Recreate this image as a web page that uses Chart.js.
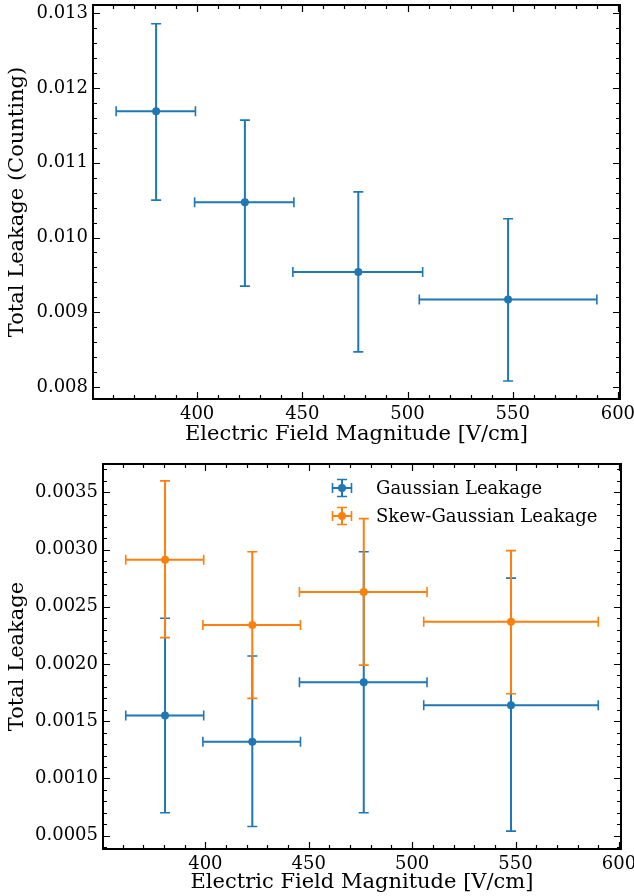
<!DOCTYPE html>
<html>
<head>
<meta charset="utf-8">
<script src="https://cdn.jsdelivr.net/npm/chart.js@4.4.0/dist/chart.umd.min.js"></script>
<style>
  body { margin: 0; background: #fff; }
  canvas { display: block; }
</style>
</head>
<body>
<canvas id="counting" width="634" height="448"></canvas>
<canvas id="fits" width="634" height="448"></canvas>
<script>
// field bins [V/cm]: centre and bin edges
const fieldCenters = [380.5, 422.7, 476.6, 547.8];
const fieldLow = [361.5, 398.8, 445.5, 505.6];
const fieldHigh = [399.2, 446.0, 507.2, 590.0];
const xTicks = [400, 450, 500, 550, 600];

// top panel - counting method
const countLeak = [0.01169, 0.01047, 0.00954, 0.00917];
const countLow = [0.01050, 0.00935, 0.00847, 0.00808];
const countHigh = [0.01286, 0.01157, 0.01061, 0.01025];
const countTicks = [0.008, 0.009, 0.010, 0.011, 0.012, 0.013];

// bottom panel - fitted leakage
const gausLeak = [0.00155, 0.00132, 0.00184, 0.00164];
const gausLow = [0.00070, 0.00058, 0.00070, 0.00054];
const gausHigh = [0.00240, 0.00207, 0.00298, 0.00275];
const skewLeak = [0.00291, 0.00234, 0.00263, 0.00237];
const skewLow = [0.00223, 0.00170, 0.00199, 0.00174];
const skewHigh = [0.00360, 0.00298, 0.00327, 0.00299];
const fitTicks = [0.0005, 0.0010, 0.0015, 0.0020, 0.0025, 0.0030, 0.0035];

const FONT = "'DejaVu Serif', serif";
const BLUE = '#1f77b4';
const ORANGE = '#ff7f0e';

// draws x/y error bars for a dataset just before its points
const errorBars = {
    id: 'errorBars',
    beforeDatasetDraw(chart, args) {
        const ds = chart.data.datasets[args.index];
        const err = ds.errors;
        if (!err) return;
        const xs = chart.scales.x, ys = chart.scales.y;
        const ctx = chart.ctx;
        const cap = 5;
        ctx.save();
        ctx.strokeStyle = ds.borderColor;
        ds.data.forEach((p, i) => {
            const px = xs.getPixelForValue(p.x), py = ys.getPixelForValue(p.y);
            const x0 = xs.getPixelForValue(err.xLow[i]), x1 = xs.getPixelForValue(err.xHigh[i]);
            const y0 = ys.getPixelForValue(err.yLow[i]), y1 = ys.getPixelForValue(err.yHigh[i]);
            ctx.lineWidth = 2;
            ctx.beginPath();
            ctx.moveTo(x0, py); ctx.lineTo(x1, py);
            ctx.moveTo(px, y0); ctx.lineTo(px, y1);
            ctx.stroke();
            ctx.lineWidth = 1.6;
            ctx.beginPath();
            ctx.moveTo(x0, py - cap); ctx.lineTo(x0, py + cap);
            ctx.moveTo(x1, py - cap); ctx.lineTo(x1, py + cap);
            ctx.moveTo(px - cap, y0); ctx.lineTo(px + cap, y0);
            ctx.moveTo(px - cap, y1); ctx.lineTo(px + cap, y1);
            ctx.stroke();
        });
        ctx.restore();
    }
};

// box around the axes with inward major/minor ticks on all sides
const frame = {
    id: 'frame',
    afterDraw(chart) {
        const {ctx, chartArea: a} = chart;
        ctx.save();
        ctx.strokeStyle = '#000';
        ctx.lineWidth = 1.2;
        const marks = (scale, horizontal) => {
            const t = scale.ticks.map(k => k.value);
            const minor = (t[1] - t[0]) / 5;
            const k0 = Math.ceil(scale.min / minor - 1e-6);
            const k1 = Math.floor(scale.max / minor + 1e-6);
            ctx.beginPath();
            for (let k = k0; k <= k1; k++) {
                const p = Math.round(scale.getPixelForValue(k * minor)) + 0.5;
                const len = k % 5 === 0 ? 7 : 4;
                if (horizontal) {
                    ctx.moveTo(p, a.bottom); ctx.lineTo(p, a.bottom - len);
                    ctx.moveTo(p, a.top); ctx.lineTo(p, a.top + len);
                } else {
                    ctx.moveTo(a.left, p); ctx.lineTo(a.left + len, p);
                    ctx.moveTo(a.right, p); ctx.lineTo(a.right - len, p);
                }
            }
            ctx.stroke();
        };
        marks(chart.scales.x, true);
        marks(chart.scales.y, false);
        ctx.lineWidth = 2;
        ctx.strokeRect(a.left, a.top, a.right - a.left, a.bottom - a.top);
        ctx.restore();
    }
};

// matplotlib-like legend inside the upper right of the axes
const innerLegend = {
    id: 'innerLegend',
    afterDraw(chart) {
        const {ctx, chartArea: a} = chart;
        ctx.save();
        ctx.font = '18px ' + FONT;
        ctx.textBaseline = 'middle';
        chart.data.datasets.forEach((ds, i) => {
            const cx = a.left + 239, cy = a.top + 24 + i * 28;
            ctx.strokeStyle = ds.borderColor;
            ctx.lineWidth = 2;
            ctx.beginPath();
            ctx.moveTo(cx - 9.5, cy); ctx.lineTo(cx + 9.5, cy);
            ctx.moveTo(cx, cy - 8.5); ctx.lineTo(cx, cy + 8.5);
            ctx.stroke();
            ctx.lineWidth = 1.6;
            ctx.beginPath();
            ctx.moveTo(cx - 9.5, cy - 5); ctx.lineTo(cx - 9.5, cy + 5);
            ctx.moveTo(cx + 9.5, cy - 5); ctx.lineTo(cx + 9.5, cy + 5);
            ctx.moveTo(cx - 5, cy - 8.5); ctx.lineTo(cx + 5, cy - 8.5);
            ctx.moveTo(cx - 5, cy + 8.5); ctx.lineTo(cx + 5, cy + 8.5);
            ctx.stroke();
            ctx.fillStyle = ds.borderColor;
            ctx.beginPath();
            ctx.arc(cx, cy, 4, 0, Math.PI * 2);
            ctx.fill();
            ctx.fillStyle = '#000';
            ctx.fillText(ds.label, a.left + 273, cy + 1);
        });
        ctx.restore();
    }
};

function series(label, color, ys, lo, hi, order) {
    return {
        label: label,
        data: fieldCenters.map((x, i) => ({x: x, y: ys[i]})),
        errors: {xLow: fieldLow, xHigh: fieldHigh, yLow: lo, yHigh: hi},
        borderColor: color,
        backgroundColor: color,
        pointRadius: 4,
        pointBorderWidth: 0,
        showLine: false,
        order: order,
    };
}

// no label overhang padding: the plot box is placed by layout.padding only
function noOverhang(s) {
    s.paddingLeft = 0; s.paddingRight = 0;
    s.paddingTop = 0; s.paddingBottom = 0;
}

function makeConfig(datasets, yTicks, decimals, yTitle, pad, yWidth, xHeight, ymin, ymax) {
    return {
        type: 'scatter',
        data: {datasets: datasets},
        options: {
            responsive: false,
            animation: false,
            events: [],
            layout: {padding: pad},
            plugins: {legend: {display: false}, tooltip: {enabled: false}},
            scales: {
                x: {
                    type: 'linear',
                    min: 350.5,
                    max: 601,
                    afterBuildTicks: s => { s.ticks = xTicks.map(v => ({value: v})); },
                    afterFit: s => { s.height = xHeight; noOverhang(s); },
                    grid: {display: false, drawTicks: false},
                    border: {display: false},
                    ticks: {
                        font: {family: FONT, size: 18},
                        color: '#000',
                        padding: 5,
                        maxRotation: 0,
                        callback: v => v.toFixed(0),
                    },
                    title: {
                        display: true,
                        text: 'Electric Field Magnitude [V/cm]',
                        font: {family: FONT, size: 21},
                        color: '#000',
                        padding: {top: 0, bottom: 1},
                    },
                },
                y: {
                    type: 'linear',
                    min: ymin,
                    max: ymax,
                    afterBuildTicks: s => { s.ticks = yTicks.map(v => ({value: v})); },
                    afterFit: s => { s.width = yWidth; noOverhang(s); },
                    grid: {display: false, drawTicks: false},
                    border: {display: false},
                    ticks: {
                        font: {family: FONT, size: 18},
                        color: '#000',
                        padding: 5,
                        callback: v => v.toFixed(decimals),
                    },
                    title: {
                        display: true,
                        text: yTitle,
                        font: {family: FONT, size: 21},
                        color: '#000',
                        padding: {top: 5, bottom: 0},
                    },
                },
            },
        },
        plugins: [errorBars, frame],
    };
}

const topCfg = makeConfig(
    [series('Counting', BLUE, countLeak, countLow, countHigh, 1)],
    countTicks, 3, 'Total Leakage (Counting)',
    {left: 0, top: 5, right: 14, bottom: 0}, 93, 49, 0.00784, 0.01311
);
new Chart(document.getElementById('counting'), topCfg);

const botCfg = makeConfig(
    [
        series('Gaussian Leakage', BLUE, gausLeak, gausLow, gausHigh, 2),
        series('Skew-Gaussian Leakage', ORANGE, skewLeak, skewLow, skewHigh, 1),
    ],
    fitTicks, 4, 'Total Leakage',
    {left: 0, top: 16, right: 13, bottom: 0}, 103, 47, 0.000384, 0.003747
);
botCfg.plugins.push(innerLegend);
new Chart(document.getElementById('fits'), botCfg);
</script>
</body>
</html>
